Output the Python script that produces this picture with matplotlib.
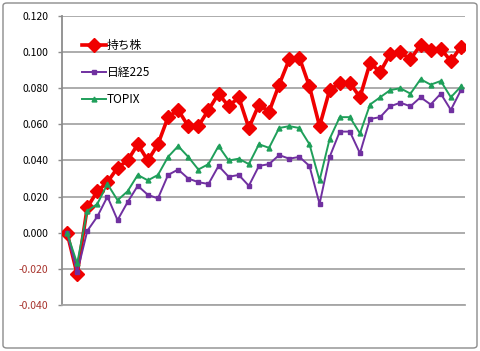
import matplotlib
matplotlib.use("Agg")
from matplotlib import pyplot as plt
from matplotlib.patches import FancyBboxPatch

plt.rcParams['font.family'] = ['Noto Sans CJK JP', 'DejaVu Sans']

# 系列データ
mochikabu = [0.000, -0.023, 0.014, 0.023, 0.028, 0.036, 0.040, 0.049, 0.040, 0.049,
             0.064, 0.068, 0.059, 0.059, 0.068, 0.077, 0.070, 0.075, 0.058, 0.071,
             0.067, 0.082, 0.096, 0.097, 0.081, 0.059, 0.079, 0.083, 0.083, 0.075,
             0.094, 0.089, 0.099, 0.100, 0.096, 0.104, 0.101, 0.102, 0.095, 0.103]
nikkei = [0.000, -0.022, 0.001, 0.009, 0.020, 0.007, 0.017, 0.026, 0.021, 0.019,
          0.032, 0.035, 0.030, 0.028, 0.027, 0.037, 0.031, 0.032, 0.026, 0.037,
          0.038, 0.043, 0.041, 0.042, 0.037, 0.016, 0.042, 0.056, 0.056, 0.044,
          0.063, 0.064, 0.070, 0.072, 0.070, 0.075, 0.071, 0.077, 0.068, 0.079]
topix = [0.000, -0.017, 0.012, 0.016, 0.027, 0.018, 0.023, 0.032, 0.029, 0.032,
         0.042, 0.048, 0.042, 0.035, 0.038, 0.048, 0.040, 0.041, 0.038, 0.049,
         0.047, 0.058, 0.059, 0.058, 0.049, 0.029, 0.052, 0.064, 0.064, 0.055,
         0.071, 0.075, 0.079, 0.080, 0.077, 0.085, 0.082, 0.084, 0.075, 0.081]
labels = ["持ち株", "日経225", "TOPIX"]
yticks = [-0.040, -0.020, 0.000, 0.020, 0.040, 0.060, 0.080, 0.100, 0.120]

x = range(len(mochikabu))

fig = plt.figure(figsize=(4.8, 3.51), dpi=100)
ax = fig.add_axes([62 / 480, 1 - 305 / 351, 403 / 480, 289 / 351])

# 外枠
fig.patches.append(FancyBboxPatch((3 / 480, 3 / 351), 474 / 480, 345 / 351,
                                  boxstyle="round,pad=0,rounding_size=0.008",
                                  transform=fig.transFigure, fill=False,
                                  edgecolor="#8c8c8c", linewidth=1.0))

ax.plot(x, mochikabu, color="#f00000", linewidth=2.6, marker="D", markersize=7.5,
        label=labels[0], zorder=3)
ax.plot(x, nikkei, color="#7030a0", linewidth=1.4, marker="s", markersize=3.5,
        label=labels[1], zorder=4)
ax.plot(x, topix, color="#1f9f5a", linewidth=1.4, marker="^", markersize=3.5,
        label=labels[2], zorder=5)

ax.set_xlim(-0.5, 39.4)
ax.set_ylim(-0.040, 0.120)
ax.set_yticks(yticks)
ax.set_yticklabels(["{:.3f}".format(v) for v in yticks])
for t, v in zip(ax.get_yticklabels(), yticks):
    t.set_color("#a8332c" if v < 0 else "black")
ax.tick_params(axis="y", length=3, width=1, color="#8c8c8c", pad=7, labelsize=7.5)
ax.set_xticks([])

ax.grid(axis="y", color="#a6a6a6", linewidth=1.3)
ax.set_axisbelow(True)
for s in ["top", "right"]:
    ax.spines[s].set_visible(False)
ax.spines["left"].set_color("#8c8c8c")
ax.spines["bottom"].set_color("#a6a6a6")
ax.spines["left"].set_linewidth(1.3)
ax.spines["bottom"].set_linewidth(1.3)

ax.legend(loc="upper left", bbox_to_anchor=(0.05, 0.921), frameon=False,
          fontsize=8.5, handlelength=2.0, handletextpad=0.1, labelspacing=1.2,
          borderaxespad=0, borderpad=0)

plt.savefig("out.png", dpi=100)
